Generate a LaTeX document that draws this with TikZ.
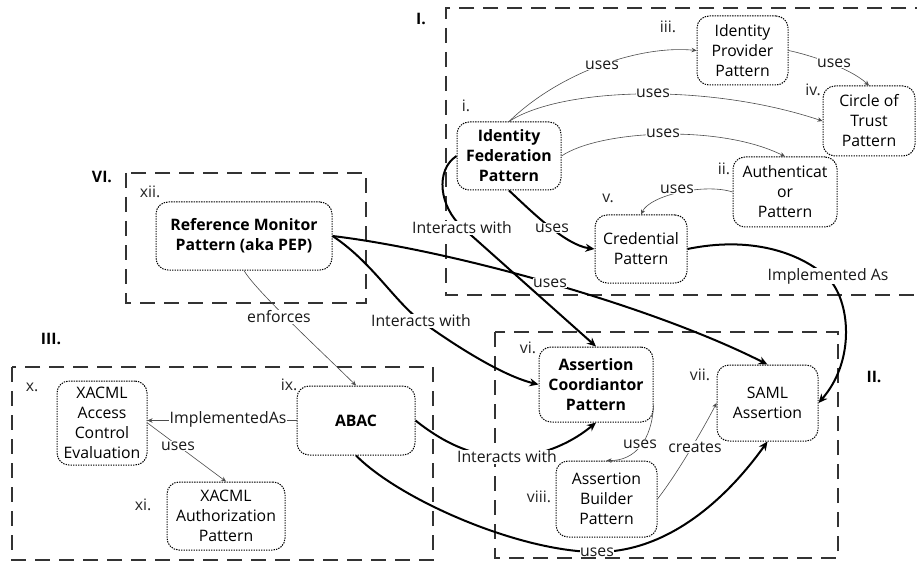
\documentclass[tikz,border=0pt]{standalone}
\usepackage{fontspec}
\setmainfont{Open Sans}
\usetikzlibrary{arrows.meta}
\begin{document}
\begin{tikzpicture}[x=1pt,y=-1pt,
  font=\fontsize{15.8}{20}\selectfont,
  pat/.style={draw=black, rounded corners=12pt, dash pattern=on 1.4pt off 1.1pt,
    line width=1pt, align=center, inner sep=1pt, fill=white},
  grp/.style={draw=black!80, line width=1.3pt, dash pattern=on 15pt off 9pt},
  thinE/.style={draw=black!70, line width=0.6pt, -{Stealth[length=5pt,width=4.5pt]}},
  thickE/.style={draw=black, line width=2pt, -{Stealth[length=9pt,width=8pt]}},
  lbl/.style={fill=white, inner sep=0.5pt, text=black!90},
  num/.style={inner sep=0pt, text=black!85},
  gnum/.style={inner sep=0pt, font=\fontsize{15.8}{20}\selectfont\bfseries}]
\fill[white] (0,0) rectangle (917,561);
\useasboundingbox (0,0) rectangle (917,561);
% group boxes
\draw[grp] (930,8) -- (446,8) -- (446,295) -- (930,295);
\draw[grp] (495,332) rectangle (838,558);
\draw[grp] (12,367) rectangle (433,560);
\draw[grp] (126,173) rectangle (366,303);
\node[gnum] (gI) at (421,19) {I.};
\node[gnum] (gII) at (874,377) {II.};
\node[gnum] (gIII) at (51,339) {III.};
\node[gnum] (gVI) at (102,177) {VI.};
% pattern nodes
\node[pat, minimum width=104pt, minimum height=68pt] (fed) at (509,156) {\textbf{Identity}\\\textbf{Federation}\\\textbf{Pattern}};
\node[pat, minimum width=91pt, minimum height=69pt] (idp) at (742.5,50.5) {Identity\\Provider\\Pattern};
\node[pat, minimum width=92pt, minimum height=70pt] (cot) at (869,121) {Circle of\\Trust\\Pattern};
\node[pat, minimum width=104pt, minimum height=70pt] (auth) at (785,192) {Authenticat\\or\\Pattern};
\node[pat, minimum width=92pt, minimum height=68pt] (cred) at (641,249) {Credential\\Pattern};
\node[pat, minimum width=114pt, minimum height=75pt] (coord) at (596,384.5) {\textbf{Assertion}\\\textbf{Coordiantor}\\\textbf{Pattern}};
\node[pat, minimum width=101pt, minimum height=76pt] (saml) at (767.5,403) {SAML\\Assertion};
\node[pat, minimum width=101pt, minimum height=76pt] (builder) at (606.5,499) {Assertion\\Builder\\Pattern};
\node[pat, minimum width=176pt, minimum height=68pt] (refmon) at (244,236) {\textbf{Reference Monitor}\\\textbf{Pattern (aka PEP)}};
\node[pat, minimum width=90pt, minimum height=84pt] (xace) at (102,423) {XACML\\Access\\Control\\Evaluation};
\node[pat, minimum width=118pt, minimum height=69pt] (abac) at (356,420.5) {\textbf{ABAC}};
\node[pat, minimum width=118pt, minimum height=68pt] (xauth) at (226,516) {XACML\\Authorization\\Pattern};
% numerals
\node[num] (ni) at (466,106) {i.};
\node[num] (nii) at (724,169) {ii.};
\node[num] (niii) at (668,27) {iii.};
\node[num] (niv) at (813,90) {iv.};
\node[num] (nv) at (608,198) {v.};
\node[num] (nvi) at (528,348) {vi.};
\node[num] (nvii) at (700,375) {vii.};
\node[num] (nviii) at (539,497) {viii.};
\node[num] (nix) at (289,385) {ix.};
\node[num] (nx) at (32,387) {x.};
\node[num] (nxi) at (143,505) {xi.};
\node[num] (nxii) at (150,192) {xii.};
% thin connectors
\draw[thinE] (fed.north) .. controls (560,72) and (640,45) .. (idp.west);
\draw[thinE] (fed.north) .. controls (560,88) and (705,82) .. (cot.west);
\draw[thinE] (fed.east) .. controls (600,130) and (720,124) .. (auth.north);
\draw[thinE] (idp.east) .. controls (810,55) and (850,68) .. (cot.north);
\draw[thinE] (auth.west) .. controls (705,183) and (650,195) .. (cred.north);
\draw[thinE] (coord.-20) .. controls (652,440) and (635,461) .. (builder.north);
\draw[thinE] (builder.east) .. controls (680,470) and (708,420) .. (saml.west);
\draw[thinE] (refmon.south) .. controls (255,290) and (320,350) .. (abac.north);
\draw[thinE] (abac.west) -- (abac.west -| xace.east);
\draw[thinE] (xace.east) -- (xauth.north);
% thick connectors
\draw[thickE] (fed.south) .. controls (530,210) and (565,245) .. (cred.west);
\draw[thickE] (fed.west) .. controls (435,170) and (439,207) .. (463,228) -- (coord.north);
\draw[thickE] (cred.east) .. controls (750,236) and (800,252) .. (828,278) .. controls (850,300) and (856,360) .. (saml.east);
\draw[thickE] (refmon.east) .. controls (450,250) and (650,305) .. (saml.north);
\draw[thickE] (refmon.east) .. controls (372,262) and (395,302) .. (421,321) .. controls (450,342) and (500,375) .. (coord.west);
\draw[thickE] (abac.east) .. controls (440,440) and (470,457) .. (507,457) .. controls (545,457) and (575,440) .. (coord.south);
\draw[thickE] (abac.south) .. controls (400,500) and (520,552) .. (597,552) .. controls (680,552) and (740,480) .. (saml.south);
% labels
\node[lbl] (l1) at (602,65) {uses};
\node[lbl] (l2) at (653,93) {uses};
\node[lbl] (l3) at (663,133) {uses};
\node[lbl] (l4) at (834,63) {uses};
\node[lbl] (l5) at (677,189) {uses};
\node[lbl] (l6) at (552,228) {uses};
\node[lbl] (l7) at (462,228) {Interacts with};
\node[lbl] (l8) at (828,276) {Implemented As};
\node[lbl] (l9) at (550,283) {uses};
\node[lbl] (l10) at (421,321) {Interacts with};
\node[lbl] (l11) at (279,317) {enforces};
\node[lbl] (l12) at (228,419) {ImplementedAs};
\node[lbl] (l13) at (178,446) {uses};
\node[lbl] (l14) at (507,457) {Interacts with};
\node[lbl] (l15) at (640,444) {uses};
\node[lbl] (l16) at (695,447) {creates};
\node[lbl] (l17) at (597,552) {uses};
\end{tikzpicture}
\end{document}
